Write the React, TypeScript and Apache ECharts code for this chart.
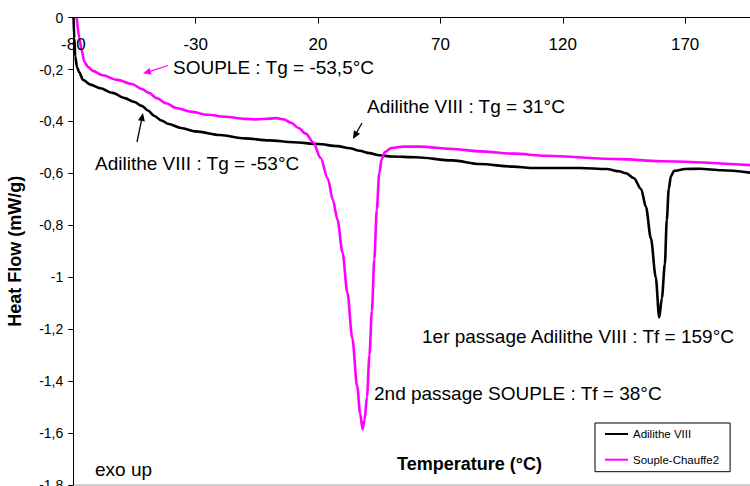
import React, { useEffect, useRef } from 'react';
import * as echarts from 'echarts';

// Temperature (°C) and heat flow (mW/g) — Adilithe VIII
const adilitheT = [-79.9, -79.6, -79.2, -78.5, -77.6, -76, -73, -69, -64, -59, -55, -52, -49.5, -47, -44, -41, -36, -30, -20, -10, 0, 10, 20, 28, 33, 37, 41, 45, 50, 60, 75, 86, 100, 107, 127, 138, 143, 146, 149, 152, 154, 156, 158, 159.4, 160.5, 161.7, 162.5, 163.3, 164.2, 165.5, 170, 176, 185, 196.5];
const adilitheHF = [0, -0.08, -0.15, -0.19, -0.21, -0.24, -0.258, -0.272, -0.29, -0.31, -0.325, -0.34, -0.358, -0.378, -0.396, -0.41, -0.425, -0.438, -0.452, -0.465, -0.473, -0.48, -0.487, -0.495, -0.503, -0.513, -0.522, -0.53, -0.535, -0.538, -0.55, -0.564, -0.574, -0.579, -0.579, -0.583, -0.592, -0.6, -0.618, -0.66, -0.73, -0.85, -1.0, -1.155, -1.08, -0.95, -0.78, -0.66, -0.61, -0.59, -0.583, -0.582, -0.588, -0.597];

// Souple-Chauffe2
const soupleT = [-78.6, -77.5, -76.6, -75.5, -74, -72, -68, -62, -56, -52, -49, -46, -42, -38, -32, -25, -18, -10, -5, 0, 3, 6, 9, 12, 15, 18, 21, 24, 26, 28, 30, 32, 34, 36, 37.2, 38.2, 39, 40, 41, 42, 43, 44, 45, 46, 47.3, 50, 55, 61.6, 75, 86, 100, 113, 143, 160, 196.5];
const soupleHF = [0, -0.08, -0.125, -0.17, -0.19, -0.205, -0.222, -0.24, -0.256, -0.275, -0.29, -0.31, -0.33, -0.348, -0.362, -0.374, -0.382, -0.39, -0.392, -0.389, -0.387, -0.392, -0.405, -0.425, -0.447, -0.48, -0.54, -0.62, -0.7, -0.78, -0.905, -1.06, -1.235, -1.42, -1.525, -1.585, -1.55, -1.46, -1.3, -1.13, -0.93, -0.74, -0.6, -0.545, -0.518, -0.502, -0.497, -0.497, -0.506, -0.515, -0.524, -0.532, -0.545, -0.553, -0.568];

const seriesNames = ['Adilithe VIII', 'Souple-Chauffe2'];
const xTickStart = -80;
const xTickStep = 50;
const yTickStep = 0.2;

const FONT = '"Liberation Sans", Arial, Helvetica, sans-serif';

function arrow(x1: number, y1: number, x2: number, y2: number, color: string) {
  const dx = x2 - x1;
  const dy = y2 - y1;
  const len = Math.hypot(dx, dy);
  const ux = dx / len;
  const uy = dy / len;
  const hl = 8;
  const hw = 3.5;
  const bx = x2 - ux * hl;
  const by = y2 - uy * hl;
  return [
    { type: 'line', silent: true, shape: { x1, y1, x2: bx, y2: by }, style: { stroke: color, lineWidth: 1.3 } },
    {
      type: 'polygon',
      silent: true,
      shape: { points: [[x2, y2], [bx - uy * hw, by + ux * hw], [bx + uy * hw, by - ux * hw]] },
      style: { fill: color },
    },
  ];
}

function label(text: string, x: number, y: number, size = 19, bold = false) {
  return {
    type: 'text',
    silent: true,
    x,
    y,
    style: {
      text,
      fontSize: size,
      fontWeight: bold ? 'bold' : 'normal',
      fontFamily: FONT,
      fill: '#000',
      verticalAlign: 'middle',
      align: 'left',
    },
  };
}

export default function App() {
  const ref = useRef<HTMLDivElement>(null);

  useEffect(() => {
    document.body.style.margin = '0';
    if (!ref.current) return;
    const chart = echarts.init(ref.current, undefined, { renderer: 'svg' });

    const pairs = (t: number[], v: number[]) => t.map((x, i) => [x, v[i]]);

    chart.setOption({
      animation: false,
      backgroundColor: '#fff',
      textStyle: { fontFamily: FONT },
      grid: { left: 73.3, right: 0, top: 17.6, bottom: 1, containLabel: false, outerBoundsMode: 'none' },
      legend: {
        orient: 'vertical',
        left: 595,
        top: 423,
        data: seriesNames,
        icon: 'rect',
        itemWidth: 23,
        itemHeight: 2,
        itemGap: 11.7,
        padding: [4, 11, 5, 10],
        borderColor: '#000',
        borderWidth: 1,
        backgroundColor: '#fff',
        textStyle: { fontSize: 11.5, lineHeight: 14, color: '#000', fontFamily: FONT },
      },
      xAxis: {
        type: 'value',
        min: xTickStart,
        max: 196.5,
        interval: xTickStep,
        position: 'top',
        z: 5,
        axisLine: { onZero: false, lineStyle: { color: '#000', width: 1 } },
        axisTick: { show: true, inside: true, length: 6, lineStyle: { color: '#000' } },
        splitLine: { show: false },
        axisLabel: {
          inside: true,
          showMinLabel: true,
          showMaxLabel: false,
          margin: 18,
          fontSize: 17,
          color: '#000',
          fontFamily: FONT,
        },
      },
      yAxis: {
        type: 'value',
        min: -1.8,
        max: 0,
        interval: yTickStep,
        name: 'Heat Flow (mW/g)',
        nameLocation: 'middle',
        nameGap: 49,
        nameRotate: 90,
        nameTextStyle: { fontSize: 18, fontWeight: 'bold', color: '#000', fontFamily: FONT },
        axisLine: { show: true, onZero: false, lineStyle: { color: '#000', width: 1 } },
        axisTick: { show: true, length: 5, lineStyle: { color: '#000' } },
        splitLine: { show: false },
        axisLabel: {
          margin: 10,
          fontSize: 14,
          color: '#000',
          fontFamily: FONT,
          formatter: (v: number) => String(+v.toFixed(1)).replace('.', ','),
        },
      },
      series: [
        {
          name: seriesNames[0],
          type: 'line',
          data: pairs(adilitheT, adilitheHF),
          showSymbol: false,
          smooth: 0.3,
          smoothMonotone: 'x',
          lineStyle: { color: '#000', width: 2.6 },
          itemStyle: { color: '#000' },
          z: 2,
        },
        {
          name: seriesNames[1],
          type: 'line',
          data: pairs(soupleT, soupleHF),
          showSymbol: false,
          smooth: 0.3,
          smoothMonotone: 'x',
          lineStyle: { color: '#ff00ff', width: 2.6 },
          itemStyle: { color: '#ff00ff' },
          z: 3,
        },
      ],
      graphic: [
        { type: 'line', silent: true, shape: { x1: 73, y1: 485, x2: 750, y2: 485 }, style: { stroke: '#a0a0a0', lineWidth: 1 } },
        label('SOUPLE : Tg = -53,5°C', 173, 67),
        label('Adilithe VIII : Tg = 31°C', 367, 106),
        label('Adilithe VIII : Tg = -53°C', 95, 163),
        label('1er passage Adilithe VIII : Tf = 159°C', 422, 336),
        label('2nd passage SOUPLE : Tf = 38°C', 374, 393),
        label('exo up', 95, 469),
        label('Temperature (°C)', 397, 464, 18, true),
        ...arrow(168, 65.5, 143, 73.5, '#ff00ff'),
        ...arrow(137, 142, 143, 113, '#000'),
        ...arrow(362, 123, 353, 139, '#000'),
      ],
    });

    return () => chart.dispose();
  }, []);

  return <div ref={ref} style={{ width: 750, height: 486 }} />;
}
